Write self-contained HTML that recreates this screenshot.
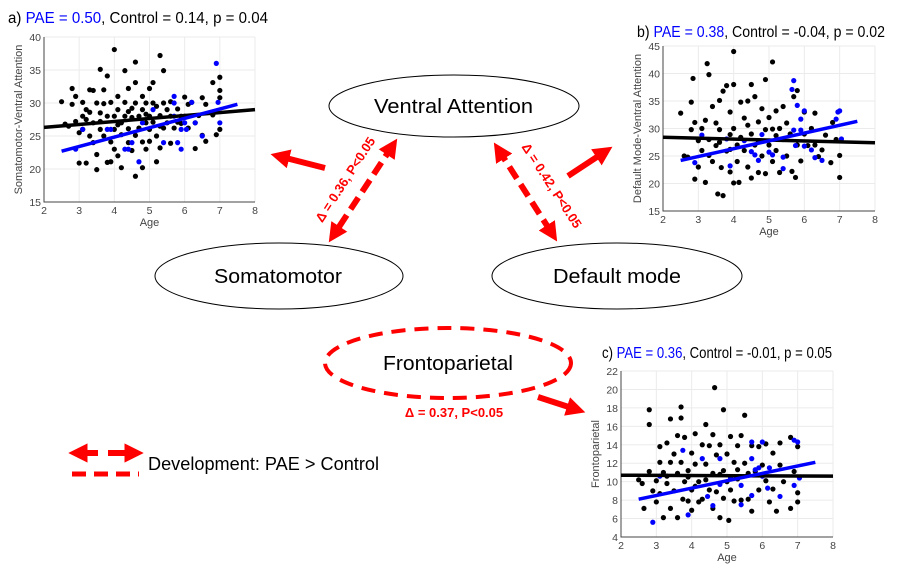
<!DOCTYPE html>
<html><head><meta charset="utf-8"><style>
html,body{margin:0;padding:0;background:#fff;}
svg{display:block;font-family:"Liberation Sans",sans-serif;}
</style></head><body>
<svg id="fig" width="899" height="568" viewBox="0 0 899 568" xmlns="http://www.w3.org/2000/svg">
<defs>
<marker id="ah" viewBox="0 0 10 10" refX="6" refY="5" markerWidth="3.2" markerHeight="3.2" orient="auto-start-reverse"><path d="M0,0 L10,5 L0,10 z" fill="#ff0000"/></marker>
</defs>
<!-- titles -->
<text x="8" y="23" font-size="15.5" textLength="260" lengthAdjust="spacingAndGlyphs">a) <tspan fill="#0000ff">PAE = 0.50</tspan>, Control = 0.14, p = 0.04</text>
<text x="637" y="37" font-size="15.5" textLength="248" lengthAdjust="spacingAndGlyphs">b) <tspan fill="#0000ff">PAE = 0.38</tspan>, Control = -0.04, p = 0.02</text>
<text x="602" y="358" font-size="15.5" textLength="230" lengthAdjust="spacingAndGlyphs">c) <tspan fill="#0000ff">PAE = 0.36</tspan>, Control = -0.01, p = 0.05</text>

<!-- network ellipses -->
<g>
<ellipse cx="454" cy="106" rx="125" ry="31" fill="#fff" stroke="#000" stroke-width="1"/>
<text x="374" y="113" font-size="20" textLength="159" lengthAdjust="spacingAndGlyphs">Ventral Attention</text></g>
<g>
<ellipse cx="279" cy="276" rx="124" ry="33" fill="#fff" stroke="#000" stroke-width="1"/>
<text x="214" y="283" font-size="20" textLength="128" lengthAdjust="spacingAndGlyphs">Somatomotor</text></g>
<g>
<ellipse cx="617" cy="276" rx="125" ry="33" fill="#fff" stroke="#000" stroke-width="1"/>
<text x="553" y="283" font-size="20" textLength="128" lengthAdjust="spacingAndGlyphs">Default mode</text></g>
<g>
<ellipse cx="448" cy="363" rx="123" ry="35" fill="none" stroke="#ff0000" stroke-width="4" stroke-dasharray="14,9"/>
<text x="383" y="370" font-size="20" textLength="130" lengthAdjust="spacingAndGlyphs">Frontoparietal</text></g>

<!-- arrows -->
<line x1="325" y1="168" x2="278" y2="156" stroke="#ff0000" stroke-width="6" marker-end="url(#ah)"/>
<line x1="568" y1="176" x2="606" y2="151" stroke="#ff0000" stroke-width="6" marker-end="url(#ah)"/>
<line x1="538" y1="397" x2="578" y2="410" stroke="#ff0000" stroke-width="6" marker-end="url(#ah)"/>
<line x1="393" y1="145" x2="333" y2="236" stroke="#ff0000" stroke-width="6" stroke-dasharray="14,7" marker-start="url(#ah)" marker-end="url(#ah)"/>
<line x1="498" y1="149" x2="553" y2="235" stroke="#ff0000" stroke-width="6" stroke-dasharray="14,7" marker-start="url(#ah)" marker-end="url(#ah)"/>
<text transform="translate(349,182) rotate(-57)" font-size="13" font-weight="bold" fill="#ff0000" text-anchor="middle">Δ = 0.36, P&lt;0.05</text>
<text transform="translate(548,188) rotate(57)" font-size="13" font-weight="bold" fill="#ff0000" text-anchor="middle">Δ = 0.42, P&lt;0.05</text>
<text x="454" y="417" font-size="13" font-weight="bold" fill="#ff0000" text-anchor="middle">Δ = 0.37, P&lt;0.05</text>

<!-- legend -->
<g>
<line x1="76" y1="453" x2="136" y2="453" stroke="#ff0000" stroke-width="6" stroke-dasharray="22,10" marker-start="url(#ah)" marker-end="url(#ah)"/>
<line x1="72" y1="474" x2="139" y2="474" stroke="#ff0000" stroke-width="5" stroke-dasharray="14,8"/>
<text x="148" y="470" font-size="18" textLength="231" lengthAdjust="spacingAndGlyphs">Development: PAE &gt; Control</text>
</g>
<g id="plots"></g>
</svg>
<script>
const agesTicks=[2,3,4,5,6,7,8];
const ticksA=[15,20,25,30,35,40];
const ticksB=[15,20,25,30,35,40,45];
const ticksC=[4,6,8,10,12,14,16,18,20,22];
const controlA=[[2.5,30.2],[2.6,26.8],[2.7,26.5],[2.8,32.2],[2.8,29.8],[2.9,31],[2.9,27.2],[3,20.9],[3,25.5],[3.1,30.1],[3.1,28],[3.1,26],[3.2,20.9],[3.2,29],[3.3,32],[3.3,25],[3.4,31.9],[3.4,27],[3.4,24],[3.5,30],[3.5,22.2],[3.5,19.9],[3.6,35.1],[3.6,28.5],[3.6,26],[3.7,29.9],[3.7,32],[3.7,25],[3.8,34.1],[3.8,21],[3.8,28],[3.9,30.1],[3.9,24.1],[3.9,21.1],[4,38.1],[4,28],[4,26],[4,23],[4.1,31],[4.1,29],[4.1,22],[4.2,27],[4.2,25.2],[4.2,20.2],[4.3,34.9],[4.3,30.1],[4.3,28],[4.4,32.2],[4.4,26.1],[4.4,24],[4.5,29.2],[4.5,27.8],[4.5,22.8],[4.6,36.2],[4.6,33.1],[4.6,30],[4.6,25.1],[4.6,18.9],[4.7,28],[4.7,26.2],[4.8,31],[4.8,29],[4.8,24.1],[4.8,20.2],[4.9,30],[4.9,27],[4.9,23],[5,32.2],[5,28],[5,26],[5,24.2],[5.1,33.1],[5.1,30],[5.1,27.1],[5.2,29.5],[5.2,25],[5.2,21.1],[5.3,37.2],[5.3,28.1],[5.3,23.2],[5.4,34.9],[5.4,30],[5.4,26.2],[5.5,29],[5.5,27],[5.6,30.2],[5.6,28],[5.6,23.9],[5.7,26.2],[5.8,29.1],[5.8,27.1],[5.9,28],[5.9,26.9],[6,30.9],[6,28],[6.1,29.8],[6.1,26.2],[6.2,30.1],[6.3,27],[6.3,23.1],[6.4,28.1],[6.5,30.8],[6.5,25.1],[6.6,24.2],[6.6,29.8],[6.8,33.1],[6.8,28.2],[6.9,25.2],[7,33.9],[7,31.9],[7,30.8],[7,26],[6.9,28.8],[3.2,27.5],[3.6,27.2],[4.4,28.7],[4.9,28.3],[5.3,26.5],[3.3,28.6],[4.1,26.7]];
const paeA=[[2.9,23],[3.1,26],[3.8,26],[3.9,26],[4.3,23],[4.4,23],[4.5,24],[4.7,21.1],[4.8,27],[5.1,29],[5.4,24],[5.7,31],[5.7,30],[5.7,28],[5.8,24],[5.9,26],[5.9,23],[6,27],[6.2,30.1],[6.3,27],[6.5,25],[6.9,36],[6.95,30.1],[7,27],[6.05,26]];
const fitA={control:[[2,26.3],[8,29]],pae:[[2.5,22.7],[7.5,29.8]]};
const controlB=[[2.5,32.8],[2.6,25],[2.7,24.8],[2.8,29.8],[2.8,34.8],[2.85,39.1],[2.9,31.1],[2.9,20.8],[3,23],[3,27.8],[3.1,30],[3.1,26],[3.2,20.2],[3.2,31.5],[3.25,41.8],[3.3,39.8],[3.3,28],[3.4,34],[3.4,24],[3.5,31],[3.5,26.9],[3.55,18.1],[3.6,35.1],[3.6,29.8],[3.65,22.9],[3.7,17.8],[3.7,36.8],[3.8,37.8],[3.8,25.9],[3.9,33],[3.9,28.9],[3.9,22.1],[4,44],[4,38],[4,30],[4,20.1],[4.1,27],[4.1,24],[4.15,20.2],[4.2,34.8],[4.3,31.9],[4.3,26],[4.4,35],[4.4,23],[4.5,38],[4.5,29],[4.5,21],[4.6,35.8],[4.6,27],[4.7,31.2],[4.7,22],[4.8,33.6],[4.8,25],[4.9,38.9],[4.9,29.8],[4.9,21.8],[5,32],[5,27],[5.1,42.1],[5.1,29.9],[5.1,24],[5.2,33.2],[5.2,26],[5.3,30],[5.3,22],[5.4,34],[5.4,28],[5.5,31],[5.5,25],[5.6,29],[5.65,22.2],[5.7,35.8],[5.75,21.1],[5.8,36.9],[5.8,27],[5.9,24.1],[6,33],[6,29],[6.1,26.9],[6.2,30],[6.3,32.8],[6.3,27],[6.4,24.9],[6.5,26.1],[6.6,28.8],[6.75,23.8],[6.8,31.1],[6.9,28],[7,25.1],[7,21.1],[3.3,25.1],[3.6,27.5],[4.2,28.4],[4.7,27.6],[5.2,28.7],[3.9,26.2],[4.4,30.6]];
const paeB=[[2.9,23.8],[3.1,28.8],[3.8,28.1],[3.9,23.2],[4.3,27.8],[4.5,25.8],[4.6,25.2],[4.7,24.2],[4.8,28.9],[5,25.7],[5.1,25.2],[5.4,24.8],[5.4,22.7],[5.65,37.1],[5.7,38.7],[5.7,29.7],[5.75,26.9],[5.8,34.2],[5.9,31.7],[5.9,29.7],[6,33.2],[6,26.8],[6.2,26.1],[6.3,24.7],[6.5,24.2],[6.9,31.7],[6.95,33],[7,33.2],[7.05,28.1]];
const fitB={control:[[2,28.4],[8,27.4]],pae:[[2.5,24.2],[7.5,31.3]]};
const controlC=[[2.5,10.2],[2.6,9.8],[2.65,7.1],[2.8,17.8],[2.8,16.2],[2.8,11.1],[2.9,9],[3,10.1],[3,7.8],[3.1,13.8],[3.1,12.1],[3.1,8.7],[3.2,6.1],[3.2,11],[3.3,14.2],[3.3,9.8],[3.4,16.8],[3.4,12.1],[3.4,7.1],[3.5,13],[3.5,9],[3.6,15],[3.6,10.9],[3.6,6.1],[3.7,18.1],[3.7,16.9],[3.7,12.1],[3.75,8.1],[3.8,14.8],[3.8,10],[3.9,11.2],[3.9,7.9],[4,13.1],[4,9.1],[4,6.9],[4.1,15.2],[4.1,11.9],[4.2,10],[4.2,7.8],[4.3,14],[4.3,8.1],[4.4,16.2],[4.4,11.9],[4.5,13.9],[4.5,9.1],[4.6,15.1],[4.6,10.9],[4.6,7.1],[4.65,20.2],[4.7,12.9],[4.7,8.9],[4.8,14],[4.8,6.1],[4.9,17.8],[4.9,11.2],[4.9,8.2],[5,13],[5,10],[5.05,5.8],[5.1,14.9],[5.1,9.1],[5.2,12.1],[5.2,7.9],[5.3,13.9],[5.3,10.3],[5.4,15],[5.4,8],[5.5,17.2],[5.5,12],[5.6,10.9],[5.6,8.1],[5.7,13.9],[5.7,6.8],[5.8,11.1],[5.9,13.8],[5.9,9.1],[6,11.8],[6.1,14.1],[6.1,10.1],[6.2,7.8],[6.3,13.1],[6.3,9.2],[6.4,6.8],[6.5,11.8],[6.5,14.2],[6.6,10],[6.8,14.8],[6.8,7.1],[6.9,11.1],[7,13.8],[7,8.8],[7,7.8],[3.3,10.6],[3.9,10.5],[4.4,10.2],[4.8,10.8],[5.3,11.3],[4.1,9.5]];
const paeC=[[2.9,5.6],[3.1,10.6],[3.75,13.4],[3.9,6.4],[4.3,12.5],[4.45,8.4],[4.6,7.4],[4.8,12.5],[4.8,9.7],[5.1,10.4],[5.4,7.5],[5.4,9.6],[5.7,14.3],[5.7,12.5],[5.7,8.5],[5.8,11.3],[5.9,11.5],[6,14.3],[6,10.6],[6.15,9.3],[6.2,11.5],[6.5,8.4],[6.9,9.6],[6.9,14.5],[7,14.3],[7.05,10.4]];
const fitC={control:[[2,10.7],[8,10.6]],pae:[[2.5,8.1],[7.5,12.1]]};

const NS='http://www.w3.org/2000/svg';
const root=document.getElementById('plots');
function mk(tag,attrs,parent){const e=document.createElementNS(NS,tag);for(const k in attrs)e.setAttribute(k,attrs[k]);parent.appendChild(e);return e;}
function plot(name,box,ymin,ymax,yt,ylab,ctrl,pae,fit){
  const g=mk('g',{},root);
  
  
  const sx=v=>box.x0+(v-2)/6*(box.x1-box.x0);
  const sy=v=>box.y1-(v-ymin)/(ymax-ymin)*(box.y1-box.y0);
  mk('rect',{x:box.x0,y:box.y0,width:box.x1-box.x0,height:box.y1-box.y0,fill:'#fff',stroke:'none'},g);
  agesTicks.forEach(t=>{mk('line',{x1:sx(t),x2:sx(t),y1:box.y0,y2:box.y1,stroke:'#ebebeb','stroke-width':1},g);
    const tx=mk('text',{x:sx(t),y:box.y1+12,'font-size':10.5,fill:'#444','text-anchor':'middle'},g);tx.textContent=t;
    
    });
  yt.forEach(t=>{mk('line',{x1:box.x0,x2:box.x1,y1:sy(t),y2:sy(t),stroke:'#ebebeb','stroke-width':1},g);
    const tx=mk('text',{x:box.x0-3,y:sy(t)+4,'font-size':10.5,fill:'#444','text-anchor':'end'},g);tx.textContent=t;
    
    });
  mk('path',{d:`M${box.x0},${box.y0}V${box.y1}H${box.x1}`,fill:'none',stroke:'#444','stroke-width':1},g);
  const xl=mk('text',{x:(box.x0+box.x1)/2,y:box.y1+24,'font-size':11,fill:'#444','text-anchor':'middle'},g);xl.textContent='Age';
  
  
  const yl=mk('text',{transform:`translate(${box.x0-22},${(box.y0+box.y1)/2}) rotate(-90)`,'font-size':11,fill:'#444','text-anchor':'middle'},g);yl.textContent=ylab;
  
  
  ctrl.forEach(p=>{const c=mk('circle',{cx:sx(p[0]),cy:sy(p[1]),r:2.6,fill:'#000'},g);
    
    });
  pae.forEach(p=>{const c=mk('circle',{cx:sx(p[0]),cy:sy(p[1]),r:2.6,fill:'#0000ff'},g);
    
    });
  const l1=mk('line',{x1:sx(fit.control[0][0]),y1:sy(fit.control[0][1]),x2:sx(fit.control[1][0]),y2:sy(fit.control[1][1]),stroke:'#000','stroke-width':3.5},g);
  
  
  const l2=mk('line',{x1:sx(fit.pae[0][0]),y1:sy(fit.pae[0][1]),x2:sx(fit.pae[1][0]),y2:sy(fit.pae[1][1]),stroke:'#0000ff','stroke-width':3.5},g);
  
  
}
plot('scatter-plot-a',{x0:44,x1:255,y0:37,y1:202},15,40,ticksA,'Somatomotor-Ventral Attention',controlA,paeA,fitA);
plot('scatter-plot-b',{x0:663,x1:875,y0:46,y1:211},15,45,ticksB,'Default Mode-Ventral Attention',controlB,paeB,fitB);
plot('scatter-plot-c',{x0:621,x1:833,y0:371,y1:537},4,22,ticksC,'Frontoparietal',controlC,paeC,fitC);
</script>
</body></html>
